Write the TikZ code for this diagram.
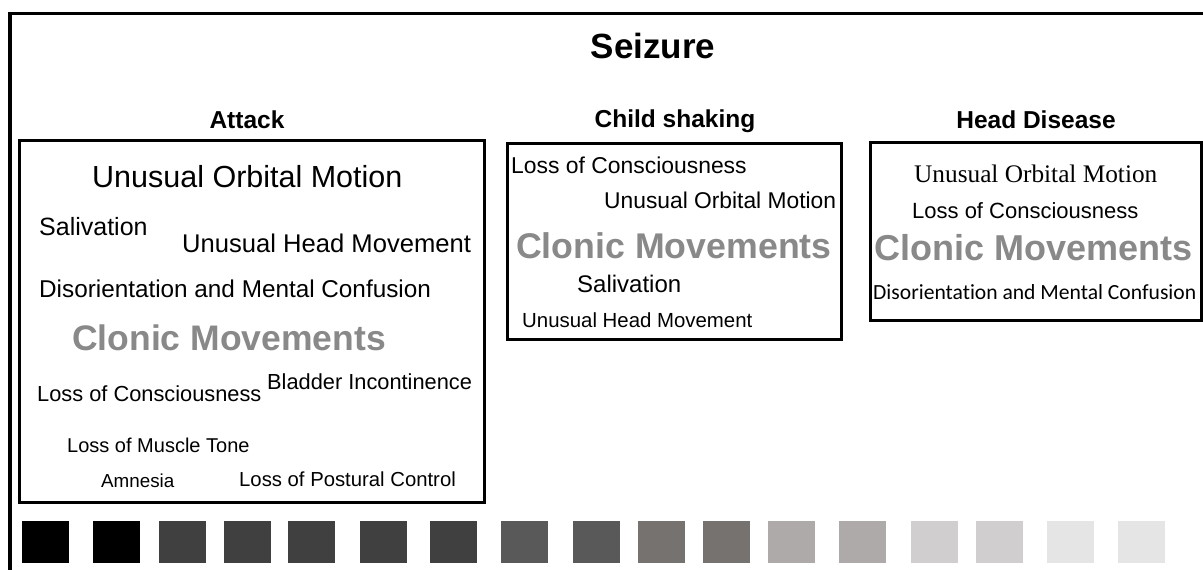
\documentclass[tikz,border=0pt]{standalone}
\usepackage{fontspec}
\setmainfont{Liberation Sans}
\newfontfamily\serifwd{Liberation Serif}
\newfontfamily\calwd[Ligatures=NoCommon]{Carlito}
\definecolor{clonic}{HTML}{898989}
\definecolor{shA}{HTML}{404040}
\definecolor{shB}{HTML}{595959}
\definecolor{shC}{HTML}{767270}
\definecolor{shD}{HTML}{AEAAA9}
\definecolor{shE}{HTML}{D0CECF}
\definecolor{shF}{HTML}{E5E5E5}
\begin{document}
\begin{tikzpicture}[x=1pt, y=-1pt,
  word/.style={inner sep=0pt, anchor=base west, font=\fontsize{#1}{#1}\selectfont},
  head/.style={inner sep=0pt, anchor=base, font=\fontsize{#1}{#1}\selectfont\bfseries},
  big/.style={word=#1, text=clonic, font=\fontsize{#1}{#1}\selectfont\bfseries},
  frame/.style={line width=3pt}]
\useasboundingbox (0,0) rectangle (1203,570);
\draw[line width=3.5pt] (10,580) -- (10,13.5) -- (1215,13.5);
\node[head=35] (seizure) at (653,58) {Seizure};
% attack
\node[head=24.5] (attack) at (247,128) {Attack};
\draw[frame] (19,140) rectangle (484,502);
\node[word=30.5] (a1) at (92,187) {Unusual Orbital Motion};
\node[word=25] (a2) at (39,235) {Salivation};
\node[word=25.6] (a3) at (182,252) {Unusual Head Movement};
\node[word=24.3] (a4) at (39,297) {Disorientation and Mental Confusion};
\node[big=35.5] (a5) at (72,350) {Clonic Movements};
\node[word=21.8] (a6) at (37,401) {Loss of Consciousness};
\node[word=21.8] (a7) at (267,389) {Bladder Incontinence};
\node[word=20] (a8) at (67,452) {Loss of Muscle Tone};
\node[word=18.8] (a9) at (101,487) {Amnesia};
\node[word=20.3] (a10) at (239,486) {Loss of Postural Control};
% child shaking
\node[head=24.5] (child) at (675,127) {Child shaking};
\draw[frame] (507,143) rectangle (841,339);
\node[word=22.9] (c1) at (511,173) {Loss of Consciousness};
\node[word=22.8] (c2) at (604,208) {Unusual Orbital Motion};
\node[big=35.7] (c3) at (516,258) {Clonic Movements};
\node[word=24] (c4) at (577,292) {Salivation};
\node[word=20.4] (c5) at (522,327) {Unusual Head Movement};
% head disease
\node[head=24.5] (head) at (1036,128) {Head Disease};
\draw[frame] (870,142) rectangle (1201,320);
\node[word=25.3, font=\fontsize{25.3}{25.3}\selectfont\serifwd] (h1) at (914,182) {Unusual Orbital Motion};
\node[word=22] (h2) at (912,218) {Loss of Consciousness};
\node[big=36] (h3) at (874,260) {Clonic Movements};
\node[word=21.6, font=\fontsize{21.6}{21.6}\selectfont\calwd] (h4) at (873,299) {Disorientation and Mental Confusion};
% scale squares
\foreach \x/\c in {22/black, 93/black, 159/shA, 224/shA, 288/shA, 360/shA, 430/shA,
  501/shB, 573/shB, 638/shC, 703/shC, 768/shD, 839/shD, 911/shE, 976/shE, 1047/shF, 1118/shF}
  \fill[\c] (\x,521) rectangle ++(47,42);
\end{tikzpicture}
\end{document}
